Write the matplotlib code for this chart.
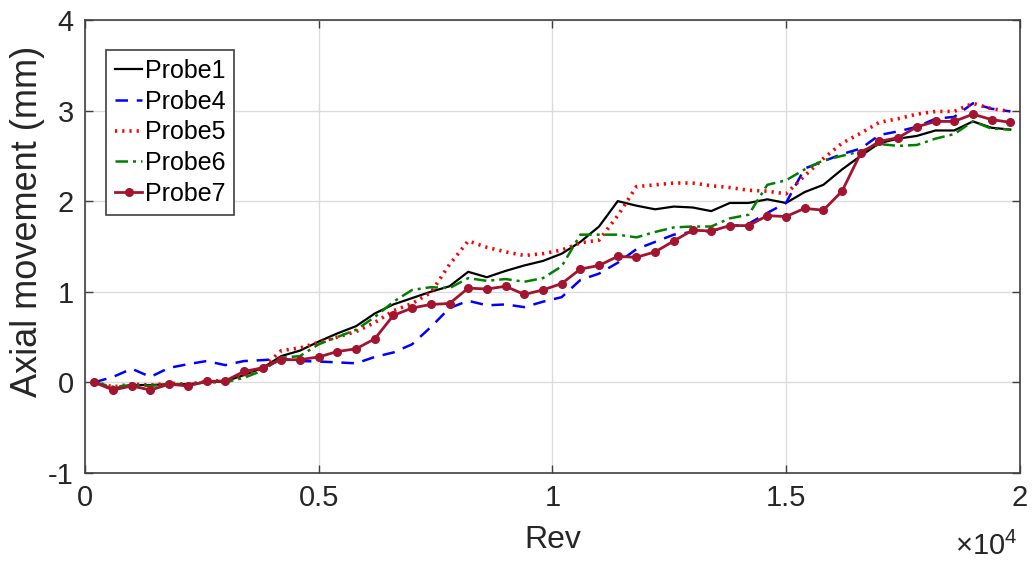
import matplotlib
matplotlib.use("Agg")
import matplotlib.pyplot as plt
import numpy as np

plt.rcParams['font.family'] = ['Liberation Sans', 'DejaVu Sans']
plt.rcParams['mathtext.fontset'] = 'custom'
plt.rcParams['mathtext.rm'] = 'Liberation Sans'

rev = list(range(200, 20000, 400))

probe1 = [0, -0.07, -0.03, -0.03, -0.02, -0.02, 0.0, 0.01, 0.08, 0.16,
          0.29, 0.35, 0.45, 0.54, 0.62, 0.76, 0.86, 0.93, 1.0, 1.06,
          1.22, 1.16, 1.23, 1.29, 1.34, 1.42, 1.55, 1.72, 2.0, 1.95,
          1.91, 1.94, 1.93, 1.89, 1.98, 1.98, 2.02, 1.98, 2.10, 2.18,
          2.35, 2.50, 2.64, 2.69, 2.72, 2.78, 2.78, 2.88, 2.81, 2.79]

probe4 = [0, 0.06, 0.15, 0.06, 0.16, 0.20, 0.235, 0.19, 0.235, 0.245,
          0.26, 0.235, 0.23, 0.22, 0.21, 0.28, 0.33, 0.42, 0.61, 0.82,
          0.90, 0.85, 0.86, 0.83, 0.89, 0.94, 1.13, 1.20, 1.32, 1.47,
          1.55, 1.63, 1.66, 1.67, 1.72, 1.75, 1.87, 1.98, 2.36, 2.44,
          2.52, 2.58, 2.73, 2.77, 2.82, 2.91, 2.93, 3.08, 3.02, 2.99]

probe5 = [0, -0.05, -0.02, -0.03, -0.01, -0.02, 0.01, 0.02, 0.08, 0.16,
          0.35, 0.38, 0.44, 0.50, 0.56, 0.66, 0.79, 0.87, 0.99, 1.30,
          1.56, 1.49, 1.44, 1.40, 1.42, 1.46, 1.54, 1.57, 1.84, 2.16,
          2.18, 2.20, 2.20, 2.17, 2.15, 2.12, 2.11, 2.08, 2.28, 2.47,
          2.64, 2.75, 2.87, 2.91, 2.96, 2.99, 2.99, 3.08, 3.02, 2.99]

probe6 = [0, -0.05, -0.03, -0.04, -0.02, -0.02, 0.0, 0.0, 0.05, 0.13,
          0.27, 0.29, 0.42, 0.50, 0.58, 0.72, 0.89, 1.02, 1.05, 1.04,
          1.15, 1.12, 1.14, 1.11, 1.15, 1.28, 1.63, 1.63, 1.63, 1.60,
          1.66, 1.71, 1.72, 1.72, 1.81, 1.85, 2.18, 2.23, 2.35, 2.45,
          2.50, 2.55, 2.63, 2.61, 2.62, 2.69, 2.74, 2.88, 2.80, 2.79]

probe7 = [0, -0.085, -0.04, -0.085, -0.02, -0.04, 0.01, 0.015, 0.12, 0.16,
          0.25, 0.25, 0.28, 0.34, 0.37, 0.48, 0.74, 0.82, 0.86, 0.87,
          1.04, 1.03, 1.06, 0.97, 1.02, 1.09, 1.25, 1.29, 1.39, 1.38,
          1.44, 1.56, 1.68, 1.67, 1.73, 1.73, 1.84, 1.83, 1.92, 1.90,
          2.11, 2.53, 2.66, 2.70, 2.82, 2.88, 2.88, 2.96, 2.90, 2.87]

xticks = [0, 5000, 10000, 15000, 20000]
xticklabels = ['0', '0.5', '1', '1.5', '2']
yticks = [-1, 0, 1, 2, 3, 4]

fig = plt.figure(figsize=(10.32, 5.62), dpi=100)
ax = fig.add_axes([0.0824, 0.1585, 0.9056, 0.806])

ax.plot(rev, probe1, color='black', lw=1.6, label='Probe1')
ax.plot(rev, probe4, color='#0000ff', lw=1.8, ls=(0, (5, 3.5)), label='Probe4')
ax.plot(rev, probe5, color='#ff0000', lw=2.6, ls=(0, (0.6, 1.4)), label='Probe5')
ax.plot(rev, probe6, color='#008000', lw=1.8, ls=(0, (5, 2, 1.2, 2)), label='Probe6')
ax.plot(rev, probe7, color='#a2142f', lw=2.0, marker='o', ms=5.5, label='Probe7')

ax.set_xlim(0, 20000)
ax.set_ylim(-1, 4)
ax.set_xticks(xticks)
ax.set_xticklabels(xticklabels)
ax.set_yticks(yticks)
ax.set_yticklabels([str(v) for v in yticks])

ax.grid(True, color='#dcdcdc', lw=1.0)
ax.set_axisbelow(True)
for s in ax.spines.values():
    s.set_color('#404040')
    s.set_linewidth(1.2)
ax.tick_params(direction='in', length=6, width=1.0, color='#404040',
               labelsize=21, labelcolor='#262626', top=True, right=True, pad=8)

ax.set_xlabel('Rev', fontsize=23, color='#262626', labelpad=9)
ax.set_ylabel('Axial movement (mm)', fontsize=26, color='#262626')
ax.yaxis.set_label_coords(-0.043, 0.555)
ax.text(0.998, -0.13, r'$\times\mathregular{10^{4}}$', transform=ax.transAxes,
        ha='right', va='top', fontsize=21, color='#262626')

leg = ax.legend(loc='upper left', bbox_to_anchor=(0.0225, 0.9335), fontsize=18,
                handlelength=1.1, handletextpad=0.1, borderpad=0.35,
                labelspacing=0.27, fancybox=False, framealpha=1,
                edgecolor='#404040', borderaxespad=0)
leg.get_frame().set_linewidth(1.2)

fig.savefig('out.png', dpi=100)
